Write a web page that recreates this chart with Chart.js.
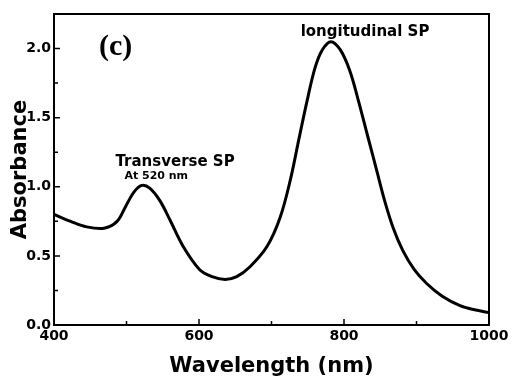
<!DOCTYPE html>
<html>
<head>
<meta charset="utf-8">
<script src="https://cdn.jsdelivr.net/npm/chart.js"></script>
<style>
  html, body { margin: 0; padding: 0; background: #fff; }
  #wrap { width: 513px; height: 379px; }
</style>
</head>
<body>
<div id="wrap"><canvas id="myChart"></canvas></div>
<script>
/* spectrum */
const wavelength = [400, 423, 445, 469, 487, 499, 510, 521, 532, 546, 560, 578, 601, 618, 636, 652,
    670, 694, 712, 726, 738, 749, 760, 770, 782, 795, 808, 819, 832, 845, 856, 868, 881, 897,
    914, 935, 960, 980, 1000];

const absorbance = [0.80, 0.75, 0.71, 0.70, 0.75, 0.86, 0.96, 1.01, 0.99, 0.90, 0.76, 0.57, 0.40, 0.35, 0.33, 0.35,
    0.42, 0.57, 0.78, 1.05, 1.35, 1.62, 1.86, 1.99, 2.05, 1.99, 1.84, 1.64, 1.38, 1.12, 0.90, 0.70, 0.54, 0.40,
    0.30, 0.21, 0.14, 0.11, 0.09];

const xTickLabels = [400, 600, 800, 1000];
const yTickLabels = [0.0, 0.5, 1.0, 1.5, 2.0];

/* text notes: label, wavelength, absorbance */
const noteText = ["(c)", "Transverse SP", "At 520 nm", "longitudinal SP"];
const noteX = [485, 567, 541, 829];
const noteY = [2.01, 1.18, 1.08, 2.12];
const noteFont = ["bold 30px 'Liberation Serif'", "bold 15px 'DejaVu Sans'", "bold 11px 'DejaVu Sans'", "bold 15px 'DejaVu Sans'"];

const points = [];
for (let i = 0; i < wavelength.length; i++) {
    points.push({x: wavelength[i], y: absorbance[i]});
}

const boldFont = {family: "'DejaVu Sans'", weight: 'bold', size: 14};

/* frame, inward ticks and text notes */
const framePlugin = {
    id: 'frame',
    afterDraw(chart) {
        const c = chart.ctx;
        const a = chart.chartArea;
        const xs = chart.scales.x;
        const ys = chart.scales.y;
        c.save();
        c.strokeStyle = '#000';
        c.lineWidth = 2;
        c.strokeRect(a.left, a.top, a.right - a.left, a.bottom - a.top);
        c.lineWidth = 1.5;
        c.beginPath();
        xs.ticks.forEach(t => {
            const px = xs.getPixelForValue(t.value);
            const len = xTickLabels.includes(t.value) ? 6 : 4;
            c.moveTo(px, a.bottom);
            c.lineTo(px, a.bottom - len);
        });
        ys.ticks.forEach(t => {
            const py = ys.getPixelForValue(t.value);
            const major = yTickLabels.some(v => Math.abs(v - t.value) < 1e-6);
            c.moveTo(a.left, py);
            c.lineTo(a.left + (major ? 6 : 4), py);
        });
        c.stroke();
        c.fillStyle = '#000';
        c.textAlign = 'center';
        c.textBaseline = 'middle';
        for (let i = 0; i < noteText.length; i++) {
            c.font = noteFont[i];
            c.fillText(noteText[i], xs.getPixelForValue(noteX[i]), ys.getPixelForValue(noteY[i]));
        }
        c.restore();
    }
};

const ctx = document.getElementById("myChart");

new Chart(ctx, {
    type: 'line',
    data: {
        datasets: [{
            data: points,
            borderColor: '#000',
            borderWidth: 3,
            pointRadius: 0,
            tension: 0.35,
            fill: false
        }]
    },
    options: {
        responsive: true,
        maintainAspectRatio: false,
        animation: false,
        layout: {padding: {left: 0, top: 14, right: 24, bottom: 0}},
        plugins: {legend: {display: false}, tooltip: {enabled: false}},
        scales: {
            x: {
                type: 'linear',
                min: 400,
                max: 1000,
                ticks: {
                    stepSize: 100,
                    padding: 3,
                    color: '#000',
                    font: boldFont,
                    maxRotation: 0,
                    autoSkip: false,
                    callback: v => xTickLabels.includes(v) ? String(v) : ''
                },
                grid: {display: false, drawTicks: false},
                border: {display: false},
                title: {
                    display: true,
                    text: 'Wavelength (nm)',
                    color: '#000',
                    font: {family: "'DejaVu Sans'", weight: 'bold', size: 21},
                    padding: {top: 0, bottom: 0}
                },
                afterFit: s => { s.height = 54; }
            },
            y: {
                min: 0,
                max: 2.25,
                ticks: {
                    stepSize: 0.25,
                    padding: 3,
                    color: '#000',
                    font: boldFont,
                    autoSkip: false,
                    callback: v => yTickLabels.some(t => Math.abs(t - v) < 1e-6) ? v.toFixed(1) : ''
                },
                grid: {display: false, drawTicks: false},
                border: {display: false},
                title: {
                    display: true,
                    text: 'Absorbance',
                    color: '#000',
                    font: {family: "'DejaVu Sans'", weight: 'bold', size: 21},
                    padding: {top: 8, bottom: 0}
                },
                afterFit: s => { s.width = 54; }
            }
        }
    },
    plugins: [framePlugin]
});
</script>
</body>
</html>
